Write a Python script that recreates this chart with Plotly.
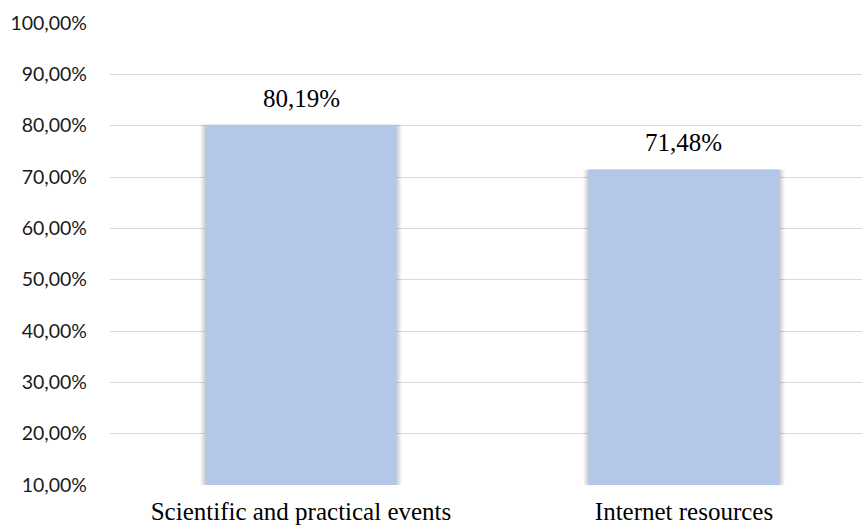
import plotly.graph_objects as go

# Share of respondents by source of information
categories = ["Scientific and practical events", "Internet resources"]
values = [80.19, 71.48]
value_labels = ["80,19%", "71,48%"]

BAR_COLOR = "#B4C7E7"
BAR_WIDTH = 0.5
PX = 1 / 383  # one pixel in category units

fig = go.Figure()

# soft shadow around the bars: a few slightly wider translucent layers
for k in range(5, 0, -1):
    fig.add_trace(go.Bar(
        x=categories, y=values,
        width=BAR_WIDTH + 2 * k * PX,
        marker=dict(color="rgba(0,0,0,0.035)", line=dict(width=0)),
        hoverinfo="skip", showlegend=False,
    ))

fig.add_trace(go.Bar(
    x=categories, y=values,
    width=BAR_WIDTH,
    marker=dict(color=BAR_COLOR, line=dict(width=0)),
    showlegend=False,
))

# value labels above the bars
for cat, val, lab in zip(categories, values, value_labels):
    fig.add_annotation(
        x=cat, y=val, text=lab, showarrow=False,
        yanchor="bottom", yshift=11,
        font=dict(family="Liberation Serif", size=25, color="#000000"),
    )

fig.update_layout(
    width=862, height=527,
    margin=dict(l=110, r=0, t=23, b=42),
    paper_bgcolor="white", plot_bgcolor="white",
    barmode="overlay",
    separators=", ",
    xaxis=dict(
        range=[-0.4987, 1.4648], automargin=False,
        showgrid=False, zeroline=False, showline=False,
        ticks="", ticklabelstandoff=9,
        tickfont=dict(family="Liberation Serif", size=25, color="#000000"),
    ),
    yaxis=dict(
        range=[10, 100], dtick=10, tick0=10, automargin=False,
        tickformat=".2f", ticksuffix="%",
        showgrid=True, gridcolor="#D9D9D9", gridwidth=1.3,
        zeroline=False, showline=False, ticks="",
        ticklabelstandoff=22,
        tickfont=dict(family="Lato", size=19.5, color="#1A1A1A"),
    ),
)

fig.write_html("out.html")
